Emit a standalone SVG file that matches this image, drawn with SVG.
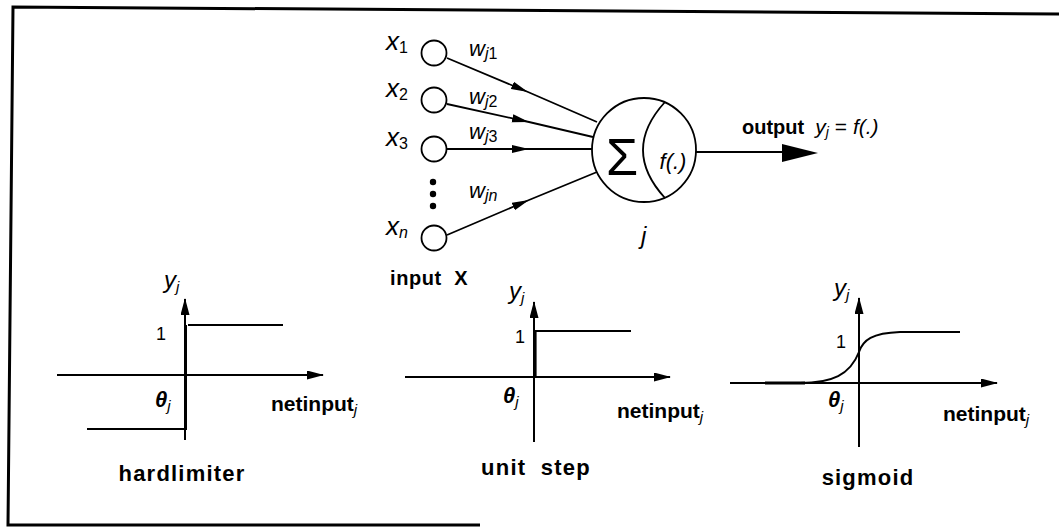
<svg xmlns="http://www.w3.org/2000/svg" width="1059" height="527" viewBox="0 0 1059 527">
<style>
.ln{stroke:#000;stroke-width:1.8;fill:none}
.ax{stroke:#000;stroke-width:2;fill:none}
.th{stroke:#000;stroke-width:3.2;fill:none}
.fr{stroke:#000;stroke-width:3;fill:none}
.it{font-family:"Liberation Sans",Arial,sans-serif;font-style:italic;fill:#000}
.bd{font-family:"Liberation Sans",Arial,sans-serif;font-weight:bold;fill:#000}
.rg{font-family:"Liberation Sans",Arial,sans-serif;fill:#000}
.sb{font-family:"Liberation Sans",Arial,sans-serif;font-style:italic;font-weight:normal}
.up{font-style:normal;font-weight:normal}
.node{stroke:#000;stroke-width:1.8;fill:#fff}
</style>
<defs>
<marker id="ah" markerWidth="17" markerHeight="9" refX="16" refY="4.5" orient="auto" markerUnits="userSpaceOnUse"><path d="M0,0 L17,4.5 L0,9 Z" fill="#000"/></marker>
<marker id="mid" markerWidth="17" markerHeight="9" refX="17" refY="4.5" orient="auto" markerUnits="userSpaceOnUse"><path d="M0,0.5 L17,4.5 L0,8.5 Z" fill="#000"/></marker>
</defs>
<rect width="1059" height="527" fill="#fff"/>

<g id="frame">
<path class="fr" d="M1059,14 L13,7 L8,525 L480,525"/>
</g>

<g id="connectors">
<path class="ln" d="M447,58 L528,92 L597,122" marker-mid="url(#mid)"/>
<path class="ln" d="M447,104 L529,122 L593,137" marker-mid="url(#mid)"/>
<path class="ln" d="M447,149 L529,149 L592,149" marker-mid="url(#mid)"/>
<path class="ln" d="M447,235 L529,200 L597,172" marker-mid="url(#mid)"/>
<path class="ln" d="M696,152 L790,152"/>
<path d="M782,144 L818,153 L782,162 Z" fill="#000"/>
</g>

<g id="input-x1">
<circle class="node" cx="434" cy="53" r="12.5"/>
<text class="it" x="386" y="50" font-size="26">x<tspan class="up" font-size="16" dy="3">1</tspan></text>
</g>
<g id="input-x2">
<circle class="node" cx="434" cy="100" r="12.5"/>
<text class="it" x="386" y="97" font-size="26">x<tspan class="up" font-size="16" dy="3">2</tspan></text>
</g>
<g id="input-x3">
<circle class="node" cx="434" cy="149" r="12.5"/>
<text class="it" x="386" y="146" font-size="26">x<tspan class="up" font-size="16" dy="3">3</tspan></text>
</g>
<g id="dots">
<circle cx="433" cy="182" r="3.2" fill="#000"/>
<circle cx="433" cy="194" r="3.2" fill="#000"/>
<circle cx="433" cy="206" r="3.2" fill="#000"/>
</g>
<g id="input-xn">
<circle class="node" cx="434" cy="238" r="12.5"/>
<text class="it" x="386" y="235" font-size="26">x<tspan font-size="16" dy="3">n</tspan></text>
<text class="bd" x="390" y="285" font-size="20" letter-spacing="0.6">input&#160; X</text>
</g>

<g id="weights">
<text class="it" x="469" y="56" font-size="22">w<tspan font-size="16" dy="3">j</tspan><tspan class="up" font-size="16">1</tspan></text>
<text class="it" x="469" y="104" font-size="22">w<tspan font-size="16" dy="3">j</tspan><tspan class="up" font-size="16">2</tspan></text>
<text class="it" x="469" y="139" font-size="22">w<tspan font-size="16" dy="3">j</tspan><tspan class="up" font-size="16">3</tspan></text>
<text class="it" x="469" y="198" font-size="22">w<tspan font-size="16" dy="3">jn</tspan></text>
</g>

<g id="neuron-j">
<circle class="node" cx="644" cy="150" r="52"/>
<path class="ln" d="M665,102 Q621,150 665,198"/>
<text class="rg" x="622" y="175" font-size="52" text-anchor="middle">Σ</text>
<text class="it" x="673" y="169" font-size="22" text-anchor="middle">f(.)</text>
<text class="it" x="641" y="244" font-size="24">j</text>
</g>

<g id="output">
<text class="bd" x="742" y="134" font-size="20">output&#160; <tspan class="it" font-weight="normal" font-size="21">y</tspan><tspan class="sb" font-size="14" dy="3">j</tspan><tspan class="rg" font-weight="normal" font-size="21" dy="-3"> = </tspan><tspan class="it" font-weight="normal" font-size="21">f(.)</tspan></text>
</g>

<g id="hardlimiter">
<path class="ax" d="M57,375 L323,375" marker-end="url(#ah)"/>
<path class="ax" d="M185,440 L185,299" marker-end="url(#ah)"/>
<path class="ax" d="M186,325 L186,430" stroke-width="2.6"/>
<path class="ax" d="M188,325 L283,325"/>
<path class="ax" d="M87,429 L185,429"/>
<text class="it" x="164" y="288" font-size="24">y<tspan font-size="15" dy="4">j</tspan></text>
<text class="rg" x="156" y="340" font-size="18">1</text>
<text class="bd" font-style="italic" x="155" y="407" font-size="22">θ<tspan class="sb" font-size="15" dy="4">j</tspan></text>
<text class="bd" x="271" y="411" font-size="21">netinput<tspan class="sb" font-size="15" dy="4">j</tspan></text>
<text class="bd" x="182" y="481" font-size="22" text-anchor="middle" letter-spacing="1.2">hardlimiter</text>
</g>

<g id="unit-step">
<path class="ax" d="M405,377 L670,377" marker-end="url(#ah)"/>
<path class="ax" d="M534,442 L534,302" marker-end="url(#ah)"/>
<path class="th" d="M535,330 L535,377"/>
<path class="ax" d="M536,331 L631,331"/>
<text class="it" x="509" y="299" font-size="24">y<tspan font-size="15" dy="4">j</tspan></text>
<text class="rg" x="515" y="343" font-size="18">1</text>
<text class="bd" font-style="italic" x="503" y="403" font-size="22">θ<tspan class="sb" font-size="15" dy="4">j</tspan></text>
<text class="bd" x="617" y="418" font-size="21">netinput<tspan class="sb" font-size="15" dy="4">j</tspan></text>
<text class="bd" x="536" y="475" font-size="22" text-anchor="middle" letter-spacing="1.2">unit&#160; step</text>
</g>

<g id="sigmoid">
<path class="ax" d="M730,383 L997,383" marker-end="url(#ah)"/>
<path class="ax" d="M859,447 L859,298" marker-end="url(#ah)"/>
<path class="th" d="M765,383 L805,383"/>
<path class="ax" stroke-width="2.4" d="M800,383 C832,383 850,375 859,352 C863,340 872,333 900,332 L960,332"/>
<text class="it" x="834" y="296" font-size="24">y<tspan font-size="15" dy="4">j</tspan></text>
<text class="rg" x="836" y="348" font-size="18">1</text>
<text class="bd" font-style="italic" x="828" y="407" font-size="22">θ<tspan class="sb" font-size="15" dy="4">j</tspan></text>
<text class="bd" x="943" y="421" font-size="21">netinput<tspan class="sb" font-size="15" dy="4">j</tspan></text>
<text class="bd" x="868" y="485" font-size="22" text-anchor="middle" letter-spacing="1.2">sigmoid</text>
</g>
</svg>
